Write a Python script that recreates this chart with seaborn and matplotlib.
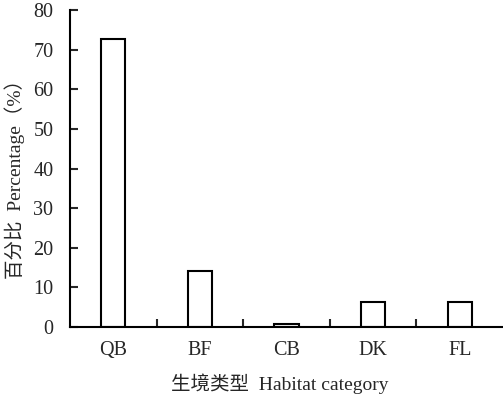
import matplotlib
matplotlib.use("Agg")
import matplotlib.pyplot as plt
import seaborn as sns
import pandas as pd
from matplotlib.ticker import FixedLocator

categories = ["QB", "BF", "CB", "DK", "FL"]
values = [72.6, 14.1, 0.8, 6.4, 6.4]
yticks = [0, 10, 20, 30, 40, 50, 60, 70, 80]

sns.set_theme(style="white")
plt.rcParams['font.family'] = ['Liberation Serif', 'Noto Sans CJK SC', 'DejaVu Sans']

df = pd.DataFrame({"cat": categories, "val": values})

fig = plt.figure(figsize=(5.03, 3.97), dpi=100)
ax = fig.add_axes([0.139, 0.1763, 0.861, 0.7985])
sns.barplot(data=df, x="cat", y="val", ax=ax, color="white", edgecolor="black",
            linewidth=1.5, width=0.28, saturation=1)

ax.set_xlim(-0.5, 4.5)
ax.set_ylim(0, 80)
ax.set_yticks(yticks)
ax.set_yticklabels([str(t) for t in yticks], fontsize=14.5)
ax.tick_params(axis='y', direction='in', length=6, width=1.5, left=True, pad=12)
ax.tick_params(axis='x', which='major', length=0, pad=10, labelsize=14.5)
ax.xaxis.set_minor_locator(FixedLocator([0.5, 1.5, 2.5, 3.5]))
ax.tick_params(axis='x', which='minor', direction='in', length=6, width=1.5, bottom=True)

for s in ['top', 'right']:
    ax.spines[s].set_visible(False)
for s in ['left', 'bottom']:
    ax.spines[s].set_visible(True)
    ax.spines[s].set_linewidth(1.5)
    ax.spines[s].set_color('black')

xl = ax.set_xlabel("生境类型  Habitat category", fontsize=14)
yl = ax.set_ylabel("百分比  Percentage（%）", fontsize=14)
xl.set_va('center')
yl.set_va('center')
ax.xaxis.set_label_coords((280 - 70) / 433, -(384 - 327) / 317)
ax.yaxis.set_label_coords(-(70 - 15) / 433, (327 - 174) / 317)

fig.savefig("out.png", dpi=100)
